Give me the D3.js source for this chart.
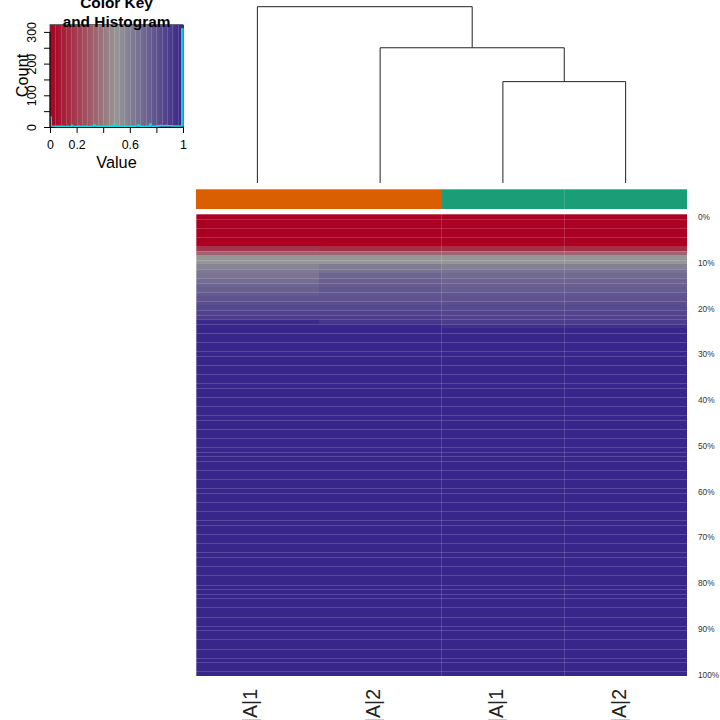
<!DOCTYPE html>
<html>
<head>
<meta charset="utf-8">
<script src="https://cdn.jsdelivr.net/npm/d3@7"></script>
<style>
    html, body { margin: 0; padding: 0; background: #fff; overflow: hidden; }
    svg { display: block; }
    text { font-family: "Liberation Sans", Arial, sans-serif; fill: #000; }
</style>
</head>
<body>
<div id="chart"></div>
<script>
// sample order in the heatmap (left to right)
let sampleLabels = ['|A|1', '|A|2', '|A|1', '|A|2'];
let sampleGroups = ['a', 'a', 'b', 'b'];

// scaled values per percentile row, 0% .. 100%
let col1 = [
    0, 0, 0, 0, 0, 0, 0, 0.18, 0.33, 0.5, 0.5, 0.58, 0.63, 0.65, 0.68, 0.72, 0.74, 0.77, 0.8, 0.82,
    0.85, 0.87, 0.9, 0.98, 1, 1, 1, 1, 1, 1, 1, 1, 1, 1, 1, 1, 1, 1, 1, 1,
    1, 1, 1, 1, 1, 1, 1, 1, 1, 1, 1, 1, 1, 1, 1, 1, 1, 1, 1, 1,
    1, 1, 1, 1, 1, 1, 1, 1, 1, 1, 1, 1, 1, 1, 1, 1, 1, 1, 1, 1,
    1, 1, 1, 1, 1, 1, 1, 1, 1, 1, 1, 1, 1, 1, 1, 1, 1, 1, 1, 1, 1
];
let col2 = [
    0, 0, 0, 0, 0, 0, 0, 0.16, 0.33, 0.5, 0.5, 0.62, 0.66, 0.72, 0.74, 0.76, 0.78, 0.79, 0.8, 0.82,
    0.85, 0.87, 0.9, 0.93, 1, 1, 1, 1, 1, 1, 1, 1, 1, 1, 1, 1, 1, 1, 1, 1,
    1, 1, 1, 1, 1, 1, 1, 1, 1, 1, 1, 1, 1, 1, 1, 1, 1, 1, 1, 1,
    1, 1, 1, 1, 1, 1, 1, 1, 1, 1, 1, 1, 1, 1, 1, 1, 1, 1, 1, 1,
    1, 1, 1, 1, 1, 1, 1, 1, 1, 1, 1, 1, 1, 1, 1, 1, 1, 1, 1, 1, 1
];
let col3 = [
    0, 0, 0, 0, 0, 0, 0, 0.16, 0.33, 0.5, 0.5, 0.6, 0.66, 0.69, 0.72, 0.74, 0.76, 0.78, 0.8, 0.82,
    0.84, 0.86, 0.88, 0.9, 0.95, 1, 1, 1, 1, 1, 1, 1, 1, 1, 1, 1, 1, 1, 1, 1,
    1, 1, 1, 1, 1, 1, 1, 1, 1, 1, 1, 1, 1, 1, 1, 1, 1, 1, 1, 1,
    1, 1, 1, 1, 1, 1, 1, 1, 1, 1, 1, 1, 1, 1, 1, 1, 1, 1, 1, 1,
    1, 1, 1, 1, 1, 1, 1, 1, 1, 1, 1, 1, 1, 1, 1, 1, 1, 1, 1, 1, 1
];
let col4 = [
    0, 0, 0, 0, 0, 0, 0, 0.16, 0.33, 0.5, 0.5, 0.6, 0.66, 0.69, 0.72, 0.74, 0.76, 0.78, 0.8, 0.82,
    0.84, 0.86, 0.88, 0.9, 0.95, 1, 1, 1, 1, 1, 1, 1, 1, 1, 1, 1, 1, 1, 1, 1,
    1, 1, 1, 1, 1, 1, 1, 1, 1, 1, 1, 1, 1, 1, 1, 1, 1, 1, 1, 1,
    1, 1, 1, 1, 1, 1, 1, 1, 1, 1, 1, 1, 1, 1, 1, 1, 1, 1, 1, 1,
    1, 1, 1, 1, 1, 1, 1, 1, 1, 1, 1, 1, 1, 1, 1, 1, 1, 1, 1, 1, 1
];
let columns = [col1, col2, col3, col4];

let rowLabels = ['0%', '10%', '20%', '30%', '40%', '50%', '60%', '70%', '80%', '90%', '100%'];
let rowLabelIndex = [0, 10, 20, 30, 40, 50, 60, 70, 80, 90, 100];

// row borders where the raster shows a pale seam
let seamRows = [
    1, 3, 5, 8, 10, 12, 14, 15, 17, 19, 21, 22, 23, 24, 26, 28, 30, 31, 33, 35, 37, 38, 40, 42, 44, 45,
    47, 49, 51, 52, 53, 54, 56, 58, 60, 61, 63, 65, 67, 68, 70, 72, 74, 75, 77, 79, 81, 82, 83, 84,
    86, 88, 90, 91, 93, 95, 97, 98, 100
];
let seamColumns = [2, 3];

// dendrogram merge heights, lowest first
let mergeHeights = [0.575, 0.767, 1];

// histogram counts in the colour key, 100 bins from 0 to 1
let histCounts = [
    30, 1, 1, 0, 1, 0, 1, 0, 1, 0, 1, 0, 0, 1, 0, 0, 4, 1, 0, 0,
    1, 0, 1, 0, 0, 1, 0, 1, 0, 0, 1, 1, 0, 5, 1, 0, 1, 0, 1, 0,
    0, 1, 0, 1, 0, 0, 1, 0, 8, 1, 0, 1, 0, 0, 1, 1, 0, 1, 0, 0,
    1, 0, 1, 0, 1, 1, 5, 1, 0, 1, 0, 0, 1, 0, 1, 8, 1, 0, 1, 1,
    0, 3, 2, 4, 3, 2, 3, 4, 2, 3, 3, 2, 1, 2, 1, 2, 1, 1, 2, 308
];
let keyXTicks = [0, 0.2, 0.4, 0.6, 0.8, 1];
let keyYTicks = [0, 50, 100, 150, 200, 250, 300];

let ramp = d3.scaleLinear()
    .domain([0, 0.5, 1])
    .range(['#ab0022', '#969696', '#38268a']);

let groupColor = { a: '#d95f02', b: '#1b9e77' };

let svg = d3.select('#chart').append('svg')
    .attr('width', 720)
    .attr('height', 720);

// heatmap
let x = d3.scaleLinear().domain([0, 4]).range([196, 687]);
let y = d3.scaleLinear().domain([0, 101]).range([214, 676]);
let heat = svg.append('g').attr('shape-rendering', 'crispEdges');

columns.forEach((col, c) => {
    heat.selectAll('.c' + c)
        .data(col)
        .enter().append('rect')
        .attr('class', 'c' + c)
        .attr('x', x(c))
        .attr('width', x(c + 1) - x(c))
        .attr('y', (d, i) => Math.round(y(i)))
        .attr('height', (d, i) => Math.round(y(i + 1)) - Math.round(y(i)))
        .attr('fill', d => ramp(d));
});

heat.selectAll('.seam-row')
    .data(seamRows)
    .enter().append('rect')
    .attr('class', 'seam-row')
    .attr('x', x(0))
    .attr('width', x(4) - x(0))
    .attr('y', d => Math.round(y(d)))
    .attr('height', 1)
    .attr('fill', '#fff')
    .attr('opacity', 0.17);

heat.selectAll('.seam-col')
    .data(seamColumns)
    .enter().append('rect')
    .attr('class', 'seam-col')
    .attr('x', d => Math.floor(x(d)))
    .attr('width', 1)
    .attr('y', y(0))
    .attr('height', y(101) - y(0))
    .attr('fill', '#fff')
    .attr('opacity', 0.15);

// soft outer edges of the raster
heat.append('rect').attr('x', x(0)).attr('y', y(0)).attr('width', x(4) - x(0)).attr('height', 1)
    .attr('fill', '#fff').attr('opacity', 0.3);
heat.append('rect').attr('x', x(0)).attr('y', y(0)).attr('width', 1).attr('height', y(101) - y(0))
    .attr('fill', '#fff').attr('opacity', 0.3);

// column side colours
let side = svg.append('g').attr('shape-rendering', 'crispEdges');
let sideTop = 189, sideBottom = 209;

side.selectAll('rect')
    .data(sampleGroups)
    .enter().append('rect')
    .attr('x', (d, i) => x(i))
    .attr('width', (d, i) => x(i + 1) - x(i))
    .attr('y', sideTop)
    .attr('height', sideBottom - sideTop)
    .attr('fill', d => groupColor[d]);

side.append('rect').attr('x', x(0)).attr('y', sideTop).attr('width', x(4) - x(0)).attr('height', 1)
    .attr('fill', '#fff').attr('opacity', 0.3);
side.append('rect').attr('x', Math.floor(x(3))).attr('y', sideTop).attr('width', 1).attr('height', sideBottom - sideTop)
    .attr('fill', '#fff').attr('opacity', 0.15);

// row labels
svg.append('g').selectAll('text')
    .data(rowLabels)
    .enter().append('text')
    .attr('x', 698)
    .attr('y', (d, i) => y(rowLabelIndex[i] + 0.5) + 1)
    .attr('dy', '0.35em')
    .attr('font-size', 8.3)
    .style('fill', '#333')
    .text(d => d);

// column labels, cut off by the page edge as in the original
svg.append('g').selectAll('text')
    .data(sampleLabels)
    .enter().append('text')
    .attr('text-anchor', 'end')
    .attr('font-size', 19.5)
    .style('fill', '#222')
    .attr('transform', (d, i) => 'translate(' + x(i + 0.5) + ',689) rotate(-90)')
    .text(d => d);

// dendrogram
let dendroY = d3.scaleLinear().domain([0, 1]).range([183, 6.7]);
let centers = [0.5, 1.5, 2.5, 3.5];
let m1 = (centers[2] + centers[3]) / 2;
let m2 = (centers[1] + m1) / 2;
let merges = [
    { left: centers[2], leftH: 0, right: centers[3], rightH: 0, h: mergeHeights[0] },
    { left: centers[1], leftH: 0, right: m1, rightH: mergeHeights[0], h: mergeHeights[1] },
    { left: centers[0], leftH: 0, right: m2, rightH: mergeHeights[1], h: mergeHeights[2] }
];

let dendroLine = d3.line().x(d => x(d[0])).y(d => dendroY(d[1]));

svg.append('g').selectAll('path')
    .data(merges)
    .enter().append('path')
    .attr('fill', 'none')
    .attr('stroke', '#222')
    .attr('stroke-width', 1)
    .attr('d', d => dendroLine([[d.left, d.leftH], [d.left, d.h], [d.right, d.h], [d.right, d.rightH]]));

// colour key
let keyX = d3.scaleLinear().domain([0, 1]).range([50, 183]);
let keyY = d3.scaleLinear().domain([0, 323]).range([127, 24.6]);
let key = svg.append('g');
let keyBins = histCounts.map((d, i) => i);

key.append('g').attr('shape-rendering', 'crispEdges').selectAll('rect')
    .data(keyBins)
    .enter().append('rect')
    .attr('x', d => keyX(d / 100))
    .attr('width', d => keyX((d + 1) / 100) - keyX(d / 100) + 0.5)
    .attr('y', keyY.range()[1])
    .attr('height', keyY.range()[0] - keyY.range()[1])
    .attr('fill', d => ramp((d + 0.5) / 100));

key.append('g').attr('shape-rendering', 'crispEdges').selectAll('rect')
    .data(keyBins.filter(d => d > 0 && d % 4 === 0))
    .enter().append('rect')
    .attr('x', d => Math.round(keyX(d / 100)))
    .attr('width', 1)
    .attr('y', keyY.range()[1])
    .attr('height', keyY.range()[0] - keyY.range()[1])
    .attr('fill', '#fff')
    .attr('opacity', 0.16);

key.append('rect')
    .attr('x', keyX(0))
    .attr('y', keyY.range()[1])
    .attr('width', keyX(1) - keyX(0))
    .attr('height', keyY.range()[0] - keyY.range()[1])
    .attr('fill', 'none')
    .attr('stroke', '#444')
    .attr('stroke-width', 0.8);

let histPoints = [];
histCounts.forEach((d, i) => {
    histPoints.push([i / 100, d]);
    histPoints.push([(i + 1) / 100, d]);
});
histPoints.push([1, 0]);

key.append('path')
    .attr('fill', 'none')
    .attr('stroke', '#00e5ee')
    .attr('stroke-width', 1.2)
    .attr('d', d3.line().x(d => keyX(d[0])).y(d => keyY(d[1]) - 0.5)(histPoints));

let keyXAxis = d3.axisBottom(keyX)
    .tickValues(keyXTicks)
    .tickSize(6)
    .tickPadding(7)
    .tickFormat(d => (d === 0.4 || d === 0.8) ? '' : String(d));
let keyYAxis = d3.axisLeft(keyY)
    .tickValues(keyYTicks)
    .tickSize(6)
    .tickFormat(d => d % 100 === 0 ? String(d) : '');

let gx = key.append('g').attr('transform', 'translate(0,127)').call(keyXAxis);
let gy = key.append('g').attr('transform', 'translate(50,0)').call(keyYAxis);
gx.attr('font-family', null);
gy.attr('font-family', null);
gx.select('.domain').attr('stroke', '#000');
gy.select('.domain').attr('d', 'M0,' + keyY(300) + 'V' + keyY(0)).attr('stroke', '#000');
gx.selectAll('text').attr('font-size', 12.4);
// tick groups already sit at the value, so only turn the label in place
gy.selectAll('text')
    .attr('font-size', 12.4)
    .attr('text-anchor', 'middle')
    .attr('dy', 0)
    .attr('x', 0)
    .attr('y', 0)
    .attr('transform', 'translate(-14,0) rotate(-90)');

svg.append('text').attr('x', 116.5).attr('y', 168).attr('text-anchor', 'middle')
    .attr('font-size', 16.3).text('Value');
svg.append('text').attr('text-anchor', 'middle').attr('font-size', 16.3)
    .attr('transform', 'translate(28,75.5) rotate(-90)').text('Count');
svg.append('text').attr('x', 116.5).attr('y', 8).attr('text-anchor', 'middle')
    .attr('font-size', 15.4).attr('font-weight', 'bold').text('Color Key');
svg.append('text').attr('x', 116.5).attr('y', 26.5).attr('text-anchor', 'middle')
    .attr('font-size', 15.4).attr('font-weight', 'bold').text('and Histogram');
</script>
</body>
</html>
